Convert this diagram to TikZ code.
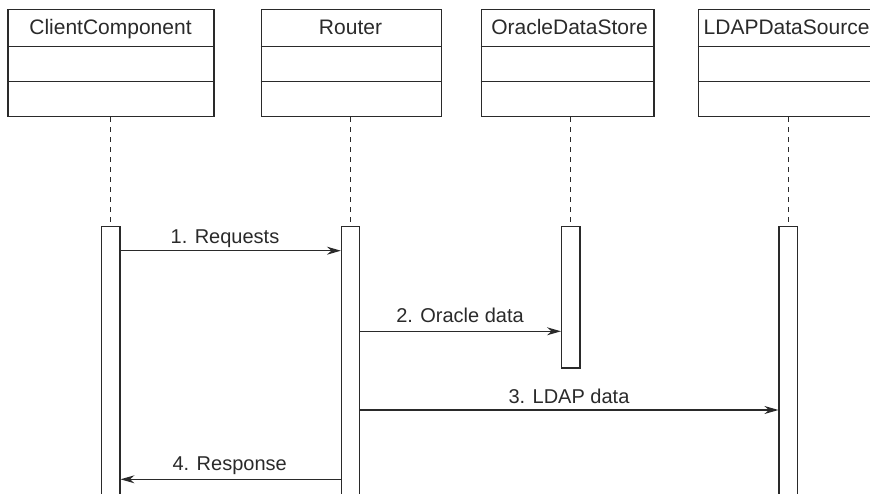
\documentclass[tikz,border=0pt]{standalone}
\usepackage{fontspec}
\setmainfont{Liberation Sans}
\usetikzlibrary{arrows.meta}
\definecolor{ink}{HTML}{2A2A2A}
\tikzset{
  classbox/.style={draw=ink, line width=1.3pt, rectangle, minimum width=#1, minimum height=107.3pt, anchor=north west, inner sep=0pt},
  titletext/.style={text=ink, font=\fontsize{21}{25}\selectfont, anchor=base, inner sep=0pt},
  actbar/.style={draw=ink, line width=1.2pt, fill=white, rectangle, minimum width=18.3pt, anchor=north west, inner sep=0pt},
  lifeline/.style={draw=ink, line width=1.1pt, dash pattern=on 5pt off 5pt},
  divider/.style={draw=ink, line width=1.3pt},
  msg/.style={draw=ink, line width=1.1pt, -{Stealth[length=14pt,width=8pt]}},
  msglabel/.style={text=ink, font=\fontsize{20}{24}\selectfont, anchor=base, inner sep=0pt}
}
\begin{document}
\begin{tikzpicture}[x=1pt,y=-1pt]
\useasboundingbox (0,0) rectangle (870,494);
\clip (0,0) rectangle (870,494);
% class boxes
\node[classbox=206pt] (cc) at (7.3,8.7) {};
\node[classbox=180pt] (rt) at (260.7,8.7) {};
\node[classbox=172.6pt] (od) at (480.7,8.7) {};
\node[classbox=182pt] (ld) at (697.7,8.7) {};
\foreach \b in {cc,rt,od,ld}{
  \draw[divider] (\b.west |- 0,46.7) -- (\b.east |- 0,46.7);
  \draw[divider] (\b.west |- 0,81.3) -- (\b.east |- 0,81.3);
}
\node[titletext] (tcc) at (110.5,35) {ClientComponent};
\node[titletext] (trt) at (350.5,35) {Router};
\node[titletext] (tod) at (569.5,35) {OracleDataStore};
\node[titletext, anchor=base west] (tld) at (703.5,35) {LDAPDataSource};
% activation bars
\node[actbar, minimum height=280pt] (a1) at (101,225.7) {};
\node[actbar, minimum height=280pt] (a2) at (340.9,225.7) {};
\node[actbar, minimum height=141.6pt] (a3) at (561,225.7) {};
\node[actbar, minimum height=280pt] (a4) at (778.4,225.7) {};
% lifelines
\draw[lifeline] (cc.south -| a1.north) -- (a1.north);
\draw[lifeline] (rt.south -| a2.north) -- (a2.north);
\draw[lifeline] (od.south -| a3.north) -- (a3.north);
\draw[lifeline] (ld.south -| a4.north) -- (a4.north);
% messages
\draw[msg] (a1.east |- 0,250.7) -- (a2.west |- 0,250.7);
\node[msglabel] (l1) at (225,243.3) {1. Requests};
\draw[msg] (a2.east |- 0,331.3) -- (a3.west |- 0,331.3);
\node[msglabel] (l2) at (460,322.3) {2. Oracle data};
\draw[msg] (a2.east |- 0,410) -- (a4.west |- 0,410);
\node[msglabel] (l3) at (569,403) {3. LDAP data};
\draw[msg] (a2.west |- 0,479.3) -- (a1.east |- 0,479.3);
\node[msglabel] (l4) at (229.7,470.7) {4. Response};
\end{tikzpicture}
\end{document}
